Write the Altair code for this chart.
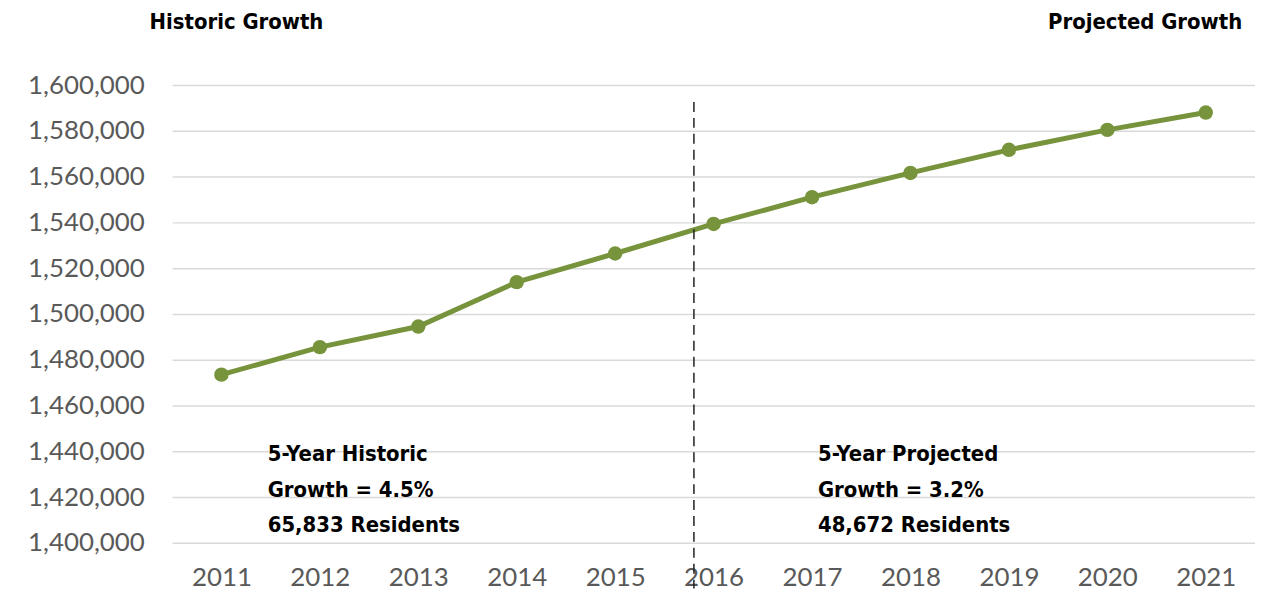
import altair as alt
import pandas as pd

years = [2011, 2012, 2013, 2014, 2015, 2016, 2017, 2018, 2019, 2020, 2021]
population = [1473478, 1485500, 1494500, 1513900, 1526400, 1539311,
              1551000, 1561600, 1571700, 1580400, 1587983]

y_ticks = list(range(1400000, 1600001, 20000))

# annotation blocks
hist_lines = ["5-Year Historic", "Growth = 4.5%", "65,833 Residents"]
proj_lines = ["5-Year Projected", "Growth = 3.2%", "48,672 Residents"]
line_vals = [1438800, 1423200, 1407900]
hist_year = 2011.47
proj_year = 2017.06

# dividing line
divider_year = 2015.8
divider_top = 1592600
divider_bottom = 1380000

# headings
headings = ["Historic Growth", "Projected Growth"]
heading_years = [2010.27, 2021.37]
heading_val = 1627400

GREEN = "#77933C"
FONT = "Lato"
BOLD_FONT = "DejaVu Sans Condensed, Roboto Condensed, Liberation Sans Narrow, sans-serif"

df = pd.DataFrame({"year": years, "pop": population})

xscale = alt.Scale(domain=[2010.5, 2021.5], nice=False, zero=False)
yscale = alt.Scale(domain=[1400000, 1600000], nice=False, zero=False)

x_axis = alt.Axis(values=years, format="d", grid=False, ticks=False, domain=False,
                  labelFont=FONT, labelFontSize=26, labelColor="#595959",
                  labelPadding=22, title=None)
y_axis = alt.Axis(values=y_ticks, format=",.0f", grid=True, gridColor="#d9d9d9",
                  gridWidth=1.5, ticks=False, domain=False,
                  labelFont=FONT, labelFontSize=26, labelColor="#595959",
                  labelPadding=28, title=None)


def X(field):
    return alt.X(field, type="quantitative", scale=xscale, axis=x_axis)


def Y(field):
    return alt.Y(field, type="quantitative", scale=yscale, axis=y_axis)


base = alt.Chart(df).encode(x=X("year"), y=Y("pop"))

line = base.mark_line(color=GREEN, strokeWidth=5)
points = base.mark_point(filled=True, color=GREEN, size=210, opacity=1)

div_df = pd.DataFrame({"x": [divider_year], "y1": [divider_top], "y2": [divider_bottom]})
divider = alt.Chart(div_df).mark_rule(color="#222222", strokeWidth=1.5,
                                      strokeDash=[10, 6]).encode(
    x=X("x"), y=Y("y1"), y2="y2:Q",
)

ann_df = pd.DataFrame({
    "text": hist_lines + proj_lines,
    "x": [hist_year] * 3 + [proj_year] * 3,
    "y": line_vals + line_vals,
})
annotations = alt.Chart(ann_df).mark_text(
    align="left", baseline="middle", font=BOLD_FONT, fontWeight="bold",
    fontSize=22, color="#000000"
).encode(x=X("x"), y=Y("y"), text="text:N")

head_df = pd.DataFrame({"text": headings, "x": heading_years,
                        "y": [heading_val] * 2})
head_left = alt.Chart(head_df.iloc[[0]]).mark_text(
    align="left", baseline="middle", font=BOLD_FONT, fontWeight="bold",
    fontSize=22, color="#000000"
).encode(x=X("x"), y=Y("y"), text="text:N")
head_right = alt.Chart(head_df.iloc[[1]]).mark_text(
    align="right", baseline="middle", font=BOLD_FONT, fontWeight="bold",
    fontSize=22, color="#000000"
).encode(x=X("x"), y=Y("y"), text="text:N")

chart = alt.layer(line, points, divider, annotations, head_left, head_right).properties(
    width=1088, height=460,
    autosize=alt.AutoSizeParams(type="none"),
    padding={"left": 165, "top": 76, "right": 0, "bottom": 51},
).configure_view(stroke=None)

chart.save("out.html", embed_options={"renderer": "svg", "actions": False})
